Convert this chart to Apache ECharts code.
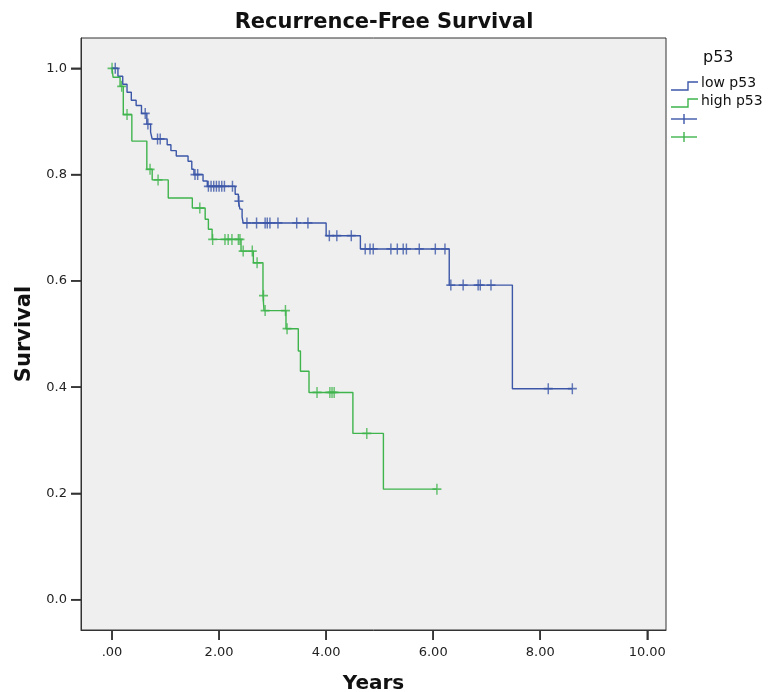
<!DOCTYPE html>
<html>
<head>
<meta charset="utf-8">
<script src="https://cdn.jsdelivr.net/npm/echarts@6/dist/echarts.min.js"></script>
<style>
  html, body { margin: 0; padding: 0; background: #fff; }
  #chart { width: 771px; height: 692px; }
</style>
</head>
<body>
<div id="chart"></div>
<script>
// Kaplan-Meier steps: time (years) where the curve drops and survival from then on
const lowTimes = [0, 0.11, 0.2, 0.28, 0.36, 0.45, 0.55, 0.65, 0.72, 0.75, 1.03, 1.1, 1.2, 1.42, 1.49, 1.53, 1.7, 1.78, 2.3, 2.36, 2.39, 2.43, 2.45, 4.0, 4.64, 6.3, 7.48]
const lowSurv = [1.0, 0.985, 0.97, 0.955, 0.94, 0.93, 0.915, 0.895, 0.88, 0.867, 0.856, 0.845, 0.835, 0.825, 0.81, 0.8, 0.788, 0.778, 0.763, 0.75, 0.735, 0.72, 0.709, 0.685, 0.66, 0.592, 0.397]
const lowEnd = 8.6
const lowCensored = [0.06, 0.62, 0.67, 0.85, 0.9, 1.55, 1.6, 1.8, 1.85, 1.9, 1.95, 2.0, 2.05, 2.1, 2.25, 2.37, 2.52, 2.7, 2.86, 2.9, 2.95, 3.1, 3.45, 3.66, 4.06, 4.2, 4.47, 4.73, 4.82, 4.88, 5.21, 5.33, 5.44, 5.5, 5.74, 6.04, 6.22, 6.33, 6.56, 6.84, 6.88, 7.08, 8.15, 8.6]

const highTimes = [0, 0.02, 0.15, 0.21, 0.37, 0.65, 0.75, 1.05, 1.5, 1.74, 1.8, 1.87, 2.41, 2.64, 2.82, 2.84, 3.25, 3.48, 3.52, 3.68, 4.5, 5.07]
const highSurv = [1.0, 0.983, 0.966, 0.913, 0.863, 0.81, 0.79, 0.756, 0.737, 0.716, 0.697, 0.678, 0.656, 0.634, 0.572, 0.544, 0.51, 0.468, 0.43, 0.39, 0.313, 0.208]
const highEnd = 6.07
const highCensored = [0.0, 0.18, 0.28, 0.71, 0.86, 1.64, 1.88, 2.11, 2.17, 2.24, 2.36, 2.39, 2.45, 2.62, 2.71, 2.83, 2.86, 3.24, 3.27, 3.83, 4.07, 4.11, 4.15, 4.76, 6.07]

const xTicks = [0, 2, 4, 6, 8, 10]
const yTicks = [0, 0.2, 0.4, 0.6, 0.8, 1.0]

const xMin = -0.58, xMax = 10.35
const yMin = -0.057, yMax = 1.057

const blue = '#3c57a8'
const green = '#3fb44c'
const font = 'DejaVu Sans'

// survival at time t
const survAt = (times, surv, t) => {
  let s = surv[0]
  times.forEach((ti, i) => { if (ti <= t) s = surv[i] })
  return s
}

const stepData = (times, surv, end) =>
  times.map((t, i) => [t, surv[i]]).concat([[end, surv[surv.length - 1]]])

const censorData = (times, surv, cens) =>
  cens.map(t => [t, survAt(times, surv, t)])

const plus = 'path://M4.2,0 H5.8 V10 H4.2 Z M0,4.2 H10 V5.8 H0 Z'

const chart = echarts.init(document.getElementById('chart'))

chart.setOption({
  animation: false,
  backgroundColor: '#fff',
  title: {
    text: 'Recurrence-Free Survival',
    left: 379,
    textAlign: 'center',
    top: 7,
    textStyle: { fontFamily: font, fontSize: 21, fontWeight: 'bold', color: '#111' }
  },
  grid: {
    left: 81, right: 105, top: 38, bottom: 62,
    outerBoundsMode: 'none',
    containLabel: false,
    show: true,
    backgroundColor: '#efefef',
    borderColor: '#333',
    borderWidth: 1
  },
  xAxis: {
    type: 'value',
    min: xMin, max: xMax,
    name: 'Years',
    nameLocation: 'middle',
    nameGap: 44,
    nameTextStyle: { fontFamily: font, fontSize: 20, fontWeight: 'bold', color: '#111' },
    splitLine: { show: false },
    axisLine: { show: true, onZero: false, lineStyle: { color: '#333' } },
    axisTick: { show: true, customValues: xTicks, length: 10, lineStyle: { color: '#333', width: 1.5 } },
    axisLabel: {
      customValues: xTicks,
      margin: 16,
      fontFamily: font, fontSize: 13, color: '#222',
      formatter: v => v === 0 ? '.00' : v.toFixed(2)
    }
  },
  yAxis: {
    type: 'value',
    min: yMin, max: yMax,
    name: 'Survival',
    nameLocation: 'middle',
    nameGap: 42,
    nameTextStyle: { fontFamily: font, fontSize: 21, fontWeight: 'bold', color: '#111' },
    splitLine: { show: false },
    axisLine: { show: true, onZero: false, lineStyle: { color: '#333' } },
    axisTick: { show: true, customValues: yTicks, length: 10, lineStyle: { color: '#333', width: 1.5 } },
    axisLabel: {
      customValues: yTicks,
      margin: 14,
      fontFamily: font, fontSize: 13, color: '#222',
      formatter: v => v.toFixed(1)
    }
  },
  series: [
    {
      name: 'low p53', type: 'line', step: 'end', showSymbol: false,
      lineStyle: { color: blue, width: 1.4 },
      data: stepData(lowTimes, lowSurv, lowEnd)
    },
    {
      name: 'high p53', type: 'line', step: 'end', showSymbol: false,
      lineStyle: { color: green, width: 1.4 },
      data: stepData(highTimes, highSurv, highEnd)
    },
    {
      name: 'low censored', type: 'scatter', symbol: plus, symbolSize: [9, 11],
      itemStyle: { color: blue },
      data: censorData(lowTimes, lowSurv, lowCensored)
    },
    {
      name: 'high censored', type: 'scatter', symbol: plus, symbolSize: [9, 11],
      itemStyle: { color: green },
      data: censorData(highTimes, highSurv, highCensored)
    }
  ]
})

// tick marks placed through the chart's own scales
const toPx = p => chart.convertToPixel({ gridIndex: 0 }, p)
const tickStyle = { stroke: '#333', lineWidth: 1.5 }
const ticks = []
xTicks.forEach(v => {
  const [x, y] = toPx([v, yMin])
  ticks.push({ type: 'line', z: 100, shape: { x1: x, y1: y, x2: x, y2: y + 10 }, style: tickStyle })
})
yTicks.forEach(v => {
  const [x, y] = toPx([xMin, v])
  ticks.push({ type: 'line', z: 100, shape: { x1: x - 10, y1: y, x2: x, y2: y }, style: tickStyle })
})

// legend: step keys for the curves, plus keys for censored cases
const legend = [
  { type: 'text', left: 703, top: 50, style: { text: 'p53', font: '16px DejaVu Sans', fill: '#111' } },
  { type: 'polyline', shape: { points: [[671, 90], [688, 90], [688, 82], [698, 82]] }, style: { stroke: blue, lineWidth: 1.4, fill: null } },
  { type: 'text', left: 701, top: 76, style: { text: 'low p53', font: '14px DejaVu Sans', fill: '#111' } },
  { type: 'polyline', shape: { points: [[671, 107], [688, 107], [688, 99], [698, 99]] }, style: { stroke: green, lineWidth: 1.4, fill: null } },
  { type: 'text', left: 701, top: 94, style: { text: 'high p53', font: '14px DejaVu Sans', fill: '#111' } },
  { type: 'polyline', shape: { points: [[671, 119], [697, 119]] }, style: { stroke: blue, lineWidth: 1.4 } },
  { type: 'polyline', shape: { points: [[684, 114], [684, 124]] }, style: { stroke: blue, lineWidth: 1.4 } },
  { type: 'polyline', shape: { points: [[671, 137], [697, 137]] }, style: { stroke: green, lineWidth: 1.4 } },
  { type: 'polyline', shape: { points: [[684, 132], [684, 142]] }, style: { stroke: green, lineWidth: 1.4 } }
]

chart.setOption({ graphic: legend.concat(ticks) })
</script>
</body>
</html>
